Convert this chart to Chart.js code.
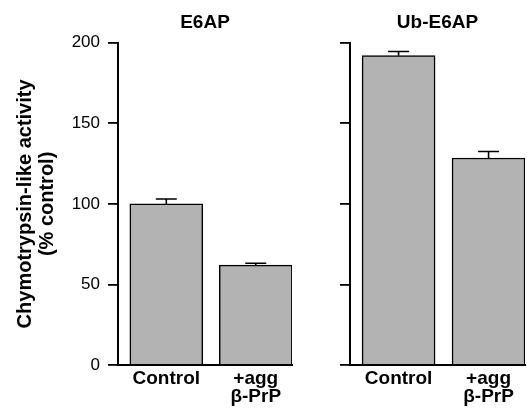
<!DOCTYPE html>
<html>
<head>
<meta charset="utf-8">
<script src="https://cdn.jsdelivr.net/npm/chart.js@4"></script>
<style>
  html, body { margin: 0; padding: 0; background: #fff; }
  #wrap { position: relative; width: 527px; height: 409px; overflow: hidden; }
  canvas { position: absolute; top: 0; }
  #c1 { left: 0; }
  #c2 { left: 300px; }
</style>
</head>
<body>
<div id="wrap">
  <canvas id="c1" width="300" height="409"></canvas>
  <canvas id="c2" width="227" height="409"></canvas>
</div>
<script>
// ---- data ----
const categories = [["Control"], ["+agg", "β-PrP"]];
const panelTitles = ["E6AP", "Ub-E6AP"];
const e6apValues = [100, 62];
const e6apErrors = [3, 1.2];
const ubE6apValues = [192, 128.5];
const ubE6apErrors = [2.6, 4];
const yTicks = [0, 50, 100, 150, 200];
const yTitle = ["Chymotrypsin-like activity", "(% control)"];

const FONT = "'Liberation Sans', Arial, Helvetica, sans-serif";
const BAR_FILL = '#b3b3b3';

const errorBarPlugin = {
  id: 'errorBars',
  afterDatasetsDraw(chart, args, opts) {
    const ctx = chart.ctx;
    const xs = chart.scales.x, ys = chart.scales.y;
    const ds = chart.data.datasets[0];
    ctx.save();
    ctx.strokeStyle = '#000';
    ctx.lineWidth = 1.6;
    ds.data.forEach((pt, i) => {
      const err = opts.errors[i];
      const x = xs.getPixelForValue(pt.x);
      const yTop = ys.getPixelForValue(pt.y);
      const yErr = ys.getPixelForValue(pt.y + err);
      ctx.beginPath();
      ctx.moveTo(x, yTop);
      ctx.lineTo(x, yErr);
      ctx.moveTo(x - 10.5, yErr);
      ctx.lineTo(x + 10.5, yErr);
      ctx.stroke();
    });
    ctx.restore();
  }
};

function makeChart(canvasId, title, values, errors, showYLabels, yWidth, rightPad) {
  const data = values.map((v, i) => ({ x: i + 1, y: v }));
  return new Chart(document.getElementById(canvasId), {
    type: 'bar',
    data: {
      datasets: [{
        data: data,
        backgroundColor: BAR_FILL,
        borderColor: '#000',
        borderWidth: 1.5,
        borderSkipped: 'bottom',
        barThickness: 73
      }]
    },
    plugins: [errorBarPlugin],
    options: {
      responsive: false,
      animation: false,
      devicePixelRatio: 1,
      layout: { padding: { left: 0, right: rightPad, top: 0, bottom: 0 } },
      plugins: {
        legend: { display: false },
        tooltip: { enabled: false },
        title: {
          display: true,
          text: title,
          fullSize: false,
          color: '#000',
          font: { family: FONT, size: 19, weight: 'bold', lineHeight: 1.2 },
          padding: { top: 11, bottom: 9 }
        },
        errorBars: { errors: errors }
      },
      scales: {
        x: {
          type: 'linear',
          offset: false,
          min: 0.46,
          max: 2.405,
          afterBuildTicks(axis) {
            axis.ticks = categories.map((_, i) => ({ value: i + 1 }));
          },
          afterFit(scale) { scale.height = 44; },
          grid: { display: false, drawTicks: false, offset: false },
          border: { display: true, color: '#000', width: 2 },
          ticks: {
            autoSkip: false,
            maxRotation: 0,
            padding: 5,
            color: '#000',
            font: { family: FONT, size: 19, weight: 'bold', lineHeight: 0.95 },
            callback: (v) => categories[v - 1] || ''
          }
        },
        y: {
          min: 0,
          max: 200,
          afterBuildTicks(axis) {
            axis.ticks = yTicks.map(v => ({ value: v }));
          },
          afterFit(scale) { scale.width = yWidth; },
          grid: {
            drawOnChartArea: false,
            drawTicks: true,
            tickLength: 10,
            color: '#000',
            lineWidth: 1.8
          },
          border: { display: true, color: '#000', width: 2 },
          ticks: {
            display: showYLabels,
            padding: 8,
            color: '#000',
            font: { family: FONT, size: 17 }
          },
          title: {
            display: showYLabels,
            text: yTitle,
            color: '#000',
            font: { family: FONT, size: 20, weight: 'bold', lineHeight: 1.1 },
            padding: { top: 14, bottom: 0 }
          }
        }
      }
    }
  });
}

makeChart('c1', panelTitles[0], e6apValues, e6apErrors, true, 118, 8);
makeChart('c2', panelTitles[1], ubE6apValues, ubE6apErrors, false, 50, 2);
</script>
</body>
</html>
